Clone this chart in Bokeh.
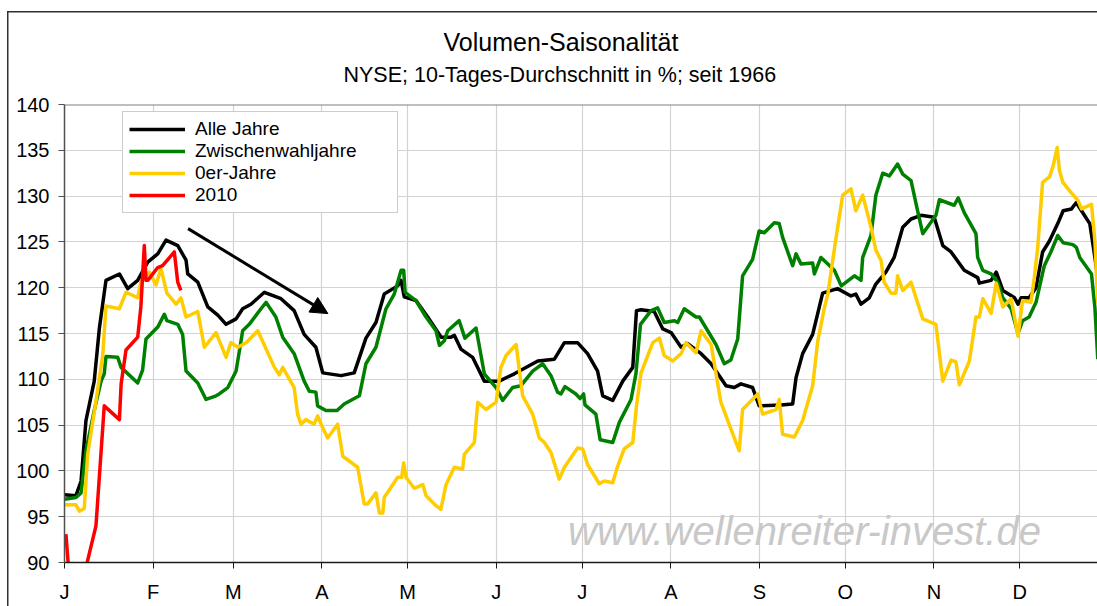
from bokeh.plotting import figure
from bokeh.models import (Range1d, FixedTicker, Legend, LegendItem, Label,
                          Arrow, NormalHead, Span, Title)
from bokeh.embed import file_html
from bokeh.resources import INLINE

FONT = "Liberation Sans"

# ---------------- data ----------------
MONTH_STARTS = [0, 31, 59, 90, 120, 151, 181, 212, 243, 273, 304, 334]
MONTH_LABELS = ["J", "F", "M", "A", "M", "J", "J", "A", "S", "O", "N", "D"]
Y_TICKS = [90, 95, 100, 105, 110, 115, 120, 125, 130, 135, 140]

TITLE = "Volumen-Saisonalität"
SUBTITLE = "NYSE; 10-Tages-Durchschnitt in %; seit 1966"
WATERMARK = "www.wellenreiter-invest.de"

SERIES_NAMES = ["Alle Jahre", "Zwischenwahljahre", "0er-Jahre", "2010"]

alle_day = [0, 4, 5.8, 7.5, 10.4, 12.2, 14.5, 19.2, 22.1, 25.6, 29.1, 32.6, 35.5,
            39.6, 42.5, 43.1, 46.6, 50.1, 53.6, 56.5, 60, 62.3, 65.2, 69.9, 75.7,
            80.3, 83.8, 87.9, 90.3, 96.7, 101.3, 105.4, 108.9, 111.8, 116.5, 117.7,
            118.8, 122.9, 127, 131.7, 135.1, 136.3, 138.6, 142.7, 146.8, 152, 157.3,
            165.5, 171.3, 174.8, 179.4, 182.9, 186.4, 188.2, 191.7, 195.2, 198.7,
            200, 201.6, 206.2, 209.2, 212.1, 215.6, 217.9, 222.6, 226.1, 231.3,
            234.2, 236.5, 240.6, 242.9, 250.5, 254.6, 255.8, 258.1, 261.6, 265.1,
            268.2, 270.3, 275, 276.7, 278.5, 281.4, 283.7, 287.2, 290.1, 293.1, 296,
            299.5, 304.1, 307.1, 310, 314.6, 319.3, 319.9, 324, 325.8, 328.1, 332.2,
            333.4, 334.5, 337.3, 339.7, 342, 344.4, 347.3, 349.2, 352.1, 353.8,
            355.6, 358.5, 360.3, 361.4]
alle_val = [97.4, 97.3, 98.9, 105.5, 109.8, 115.6, 120.8, 121.5, 119.9, 120.8, 122.8,
            123.7, 125.2, 124.6, 123.0, 121.5, 120.6, 117.9, 117.0, 116.0, 116.6,
            117.7, 118.2, 119.5, 118.8, 117.5, 114.9, 113.5, 110.7, 110.4, 110.7,
            114.5, 116.2, 119.3, 120.2, 120.8, 119.0, 118.6, 116.8, 114.6, 114.6,
            114.8, 113.3, 112.4, 109.8, 109.8, 110.6, 112.0, 112.2, 114.0, 114.0,
            112.8, 110.9, 108.2, 107.7, 109.8, 111.3, 117.5, 117.6, 117.4, 115.5,
            115.1, 113.5, 113.9, 112.8, 111.7, 109.3, 109.1, 109.5, 109.1, 107.1,
            107.2, 107.3, 110.2, 112.8, 114.9, 119.4, 119.7, 119.9, 119.1, 119.3,
            118.2, 118.9, 120.4, 121.7, 123.3, 126.6, 127.5, 127.9, 127.7, 124.6,
            123.9, 121.9, 121.1, 120.5, 120.8, 121.7, 119.7, 118.9, 118.2, 118.9,
            118.9, 120.0, 123.9, 125.1, 127.0, 128.4, 128.6, 129.3, 128.4, 127.0,
            123.3, 120.8]

zwj_day = [0, 4, 5.8, 7.5, 10.4, 12.8, 13.9, 14.5, 18.6, 19.8, 25.6, 27.3, 28.5,
           32.6, 34.9, 35.8, 39.6, 41.3, 42.5, 46.6, 49.5, 53, 54.1, 57.1, 60, 62.3,
           64.6, 68.7, 70.5, 73.9, 76.3, 80.3, 83.8, 85.6, 87.9, 88.5, 91.4, 95.3,
           97.8, 103.1, 105.4, 108.9, 112.4, 115.3, 117.7, 118.6, 119.1, 122.9,
           126.4, 129.9, 131.1, 132.8, 134, 138, 140, 143.9, 146.8, 150.9, 153.2,
           156.7, 159.6, 163.7, 167.2, 170.1, 172.4, 173.6, 175, 178.8, 180.3, 181.5,
           182, 185.8, 187.3, 191.7, 194, 198.1, 199.8, 201.4, 205.1, 207.4, 209.7,
           213.3, 214.4, 216.7, 220.8, 222, 224.9, 227.8, 230.7, 233, 235.4, 237.1,
           240.6, 242.9, 244.7, 248.2, 249.9, 251.1, 254.6, 255.8, 257.5, 261.6,
           262.2, 264.5, 269.2, 271.6, 276.2, 278.5, 279.1, 282, 283.7, 286.1, 288.4,
           291.3, 293.1, 296, 298.3, 300.1, 304.7, 305.9, 311.1, 312.5, 314.6, 318.7,
           319.3, 321.1, 324, 326.3, 328.1, 331, 333.4, 335, 337.3, 339.7, 342.6,
           344.9, 347.3, 349.2, 352.6, 353.8, 355, 359.1, 360.3, 361.3]
zwj_val = [96.9, 97.1, 97.6, 102.2, 106.6, 109.8, 110.6, 112.5, 112.4, 111.3, 109.6,
           111.0, 114.4, 115.7, 117.1, 116.4, 116.0, 114.9, 110.9, 109.6, 107.8, 108.2,
           108.4, 109.1, 110.9, 115.3, 116.0, 117.7, 118.4, 116.8, 114.6, 112.8, 109.8,
           108.7, 108.6, 107.1, 106.6, 106.6, 107.3, 108.2, 111.7, 113.5, 117.7, 119.3,
           121.9, 121.9, 119.5, 118.6, 116.8, 115.3, 113.7, 114.2, 115.3, 116.4, 114.5,
           115.6, 110.6, 109.1, 107.7, 109.1, 109.3, 110.9, 111.7, 110.4, 108.6, 108.4,
           109.2, 108.4, 107.9, 108.4, 107.2, 106.2, 103.4, 103.1, 105.3, 107.8, 110.6,
           116.0, 117.5, 117.8, 116.2, 116.4, 116.2, 117.7, 116.8, 116.8, 115.3, 113.8,
           111.7, 112.1, 114.4, 121.3, 123.1, 126.2, 126.0, 127.1, 127.0, 125.5, 122.4,
           123.7, 122.6, 122.7, 121.5, 123.3, 121.9, 120.2, 121.3, 120.8, 123.3, 125.7,
           130.1, 132.5, 132.2, 133.5, 132.4, 131.7, 128.4, 125.9, 127.9, 129.6, 129.0,
           129.8, 128.2, 125.9, 123.3, 121.9, 121.5, 120.6, 118.9, 117.7, 115.0, 116.4,
           116.8, 118.4, 122.4, 123.9, 125.7, 124.9, 124.7, 124.4, 123.3, 121.5, 117.8,
           112.2]

null_day = [0, 4, 5.2, 6.9, 8.1, 11, 13.4, 14.5, 19.2, 21.5, 25.6, 26.7, 29.7, 32,
            33.7, 35.8, 39, 40.7, 42.5, 46.6, 48.9, 53, 56.5, 58.2, 60.6, 63.5, 67.6,
            70.5, 73.4, 75.1, 76.3, 80.3, 81.5, 82.7, 84.4, 87.3, 88.5, 90.3, 92, 95.5,
            97.3, 102.5, 104.8, 106, 108.9, 110.1, 111.3, 111.8, 116.5, 117.9, 118.6,
            119.4, 122.3, 125.3, 126.4, 129.9, 131.6, 133.4, 136.3, 139.2, 139.8,
            143.3, 144.5, 147.4, 150.9, 152.6, 154.4, 157.9, 160.2, 163.7, 166, 167.8,
            170.1, 173, 174.8, 179.4, 181.2, 182.9, 187, 188.7, 191.7, 193.4, 195.7,
            198.7, 200, 201.6, 205.7, 208, 209.7, 212.7, 215.6, 217.3, 220.8, 222.6,
            226.1, 229.5, 233, 235.9, 237.1, 242.4, 244.1, 248.8, 249.9, 251.1, 255.2,
            258.1, 261.6, 263.4, 265.7, 266.9, 269.8, 272.1, 275, 276.7, 279.1, 282,
            283.7, 285.5, 286.6, 289, 290.7, 291.3, 293.1, 296, 300.1, 304.7, 307.1,
            310, 311.7, 312.9, 316.4, 318.7, 319.9, 321.1, 324, 325.8, 328.1, 331,
            333.4, 335, 337.9, 339.1, 340.3, 342, 344.4, 345.6, 347.1, 347.9, 349.1,
            351.4, 354.4, 355.6, 359.1, 360.3, 361.3]
null_val = [96.3, 96.3, 95.6, 95.9, 101.8, 107.6, 112.7, 118.0, 117.7, 119.5, 118.9,
            120.6, 121.7, 120.3, 122.1, 119.4, 118.2, 118.9, 116.8, 117.4, 113.5, 115.1,
            112.4, 114.0, 113.5, 114.0, 115.3, 113.3, 111.3, 110.5, 111.3, 109.1, 106.2,
            105.1, 105.6, 105.1, 106.0, 104.7, 103.6, 105.1, 101.6, 100.4, 96.4, 96.4,
            97.6, 95.4, 95.4, 97.1, 99.3, 99.3, 100.9, 99.3, 98.1, 98.5, 97.3, 96.2,
            95.8, 98.5, 100.4, 100.2, 101.8, 103.1, 107.5, 106.7, 107.5, 111.3, 112.6,
            113.8, 108.2, 106.2, 103.6, 103.1, 102.0, 99.1, 100.4, 102.5, 102.4, 100.7,
            98.6, 98.9, 98.7, 100.5, 102.4, 103.1, 107.1, 110.7, 114.0, 114.5, 112.6,
            112.0, 112.8, 114.0, 112.9, 115.3, 113.8, 107.5, 104.6, 102.2, 106.7, 108.4,
            106.2, 106.7, 107.8, 104.0, 103.7, 105.5, 109.3, 114.2, 117.8, 119.3, 125.5,
            130.1, 130.8, 128.4, 130.1, 126.6, 124.1, 123.0, 120.6, 119.4, 119.4, 121.3,
            119.7, 120.6, 116.6, 116.0, 109.8, 112.1, 111.9, 109.4, 112.0, 116.8, 116.8,
            118.8, 117.2, 120.5, 117.9, 118.8, 114.7, 118.6, 118.4, 121.1, 124.4, 131.5,
            132.1, 133.2, 135.3, 132.8, 131.5, 130.6, 129.5, 128.6, 129.1, 125.1, 118.2]

y2010_day = [0.5, 2.0, 6.0, 11, 13.9, 19.2, 19.8, 21.5, 25.6, 26.7, 27.9, 28.5,
             29.1, 32.6, 34.3, 38.4, 39.6, 40.7]
y2010_val = [93.1, 87.0, 87.5, 94.0, 107.1, 105.6, 109.5, 113.2, 114.6, 117.9, 124.6,
             120.8, 120.8, 122.2, 122.4, 123.9, 120.6, 119.7]

# arrow annotation (day, value)
ARROW_START = (43.2, 126.45)
ARROW_END = (92.1, 117.17)

COLORS = ["#000000", "#008000", "#FFCC00", "#FF0000"]

# ---------------- figure ----------------
p = figure(width=1097, height=606, output_backend="svg", toolbar_location=None,
           x_range=Range1d(0, 361.2), y_range=Range1d(90, 140),
           min_border_left=64, min_border_right=0, min_border_top=104,
           min_border_bottom=44, background_fill_color="white",
           border_fill_color=None, outline_line_color=None)

# thin chart-area frame (left and top edge) drawn behind the transparent border
p.styles = {
    "background-color": "white",
    "background-image": "linear-gradient(#303030, #303030), linear-gradient(#303030, #303030)",
    "background-size": "1.5px calc(100% - 11px), calc(100% - 7px) 1.5px",
    "background-position": "7px 11px, 7px 11px",
    "background-repeat": "no-repeat",
}

# grid
p.xgrid.ticker = FixedTicker(ticks=MONTH_STARTS)
p.ygrid.ticker = FixedTicker(ticks=Y_TICKS)
p.grid.grid_line_color = "#d3d3d3"
p.grid.grid_line_width = 1.2

# axes
p.xaxis.ticker = FixedTicker(ticks=MONTH_STARTS)
p.xaxis.major_label_overrides = {m: l for m, l in zip(MONTH_STARTS, MONTH_LABELS)}
p.yaxis.ticker = FixedTicker(ticks=Y_TICKS)
for ax in (p.xaxis[0], p.yaxis[0]):
    ax.minor_tick_line_color = None
    ax.major_tick_in = 0
    ax.major_tick_out = 6
    ax.major_label_text_font = FONT
    ax.major_label_text_font_size = "20px"
    ax.major_label_text_color = "#000000"
p.xaxis.axis_line_color = "#1a1a1a"
p.xaxis.axis_line_width = 1.5
p.xaxis.major_tick_line_color = "#1a1a1a"
p.xaxis.major_label_standoff = 12
p.yaxis.axis_line_color = "#505050"
p.yaxis.axis_line_width = 1.5
p.yaxis.major_tick_line_color = "#505050"
p.yaxis.major_label_standoff = 9

p.add_layout(Span(location=140, dimension="width", line_color="#808080",
                  line_width=2))

# watermark
p.add_layout(Label(x=740, y=32, x_units="screen", y_units="screen",
                   text=WATERMARK, text_font=FONT, text_font_size="40px",
                   text_font_style="italic", text_color="#c8c8c8",
                   text_align="center", text_baseline="alphabetic"))

# series
renderers = []
for xs, ys, c in zip([alle_day, zwj_day, null_day, y2010_day],
                     [alle_val, zwj_val, null_val, y2010_val], COLORS):
    r = p.line(xs, ys, line_color=c, line_width=3.5, line_join="round")
    renderers.append(r)

# arrow
p.add_layout(Arrow(x_start=ARROW_START[0], y_start=ARROW_START[1],
                   x_end=ARROW_END[0], y_end=ARROW_END[1],
                   line_color="black", line_width=3,
                   end=NormalHead(size=17, fill_color="black",
                                  line_color="black")))

# legend
legend = Legend(items=[LegendItem(label=n, renderers=[r])
                       for n, r in zip(SERIES_NAMES, renderers)],
                location=(58, 349), orientation="vertical",
                label_text_font=FONT, label_text_font_size="19px",
                label_text_color="black",
                glyph_width=56, glyph_height=22, label_height=22,
                label_width=196,
                spacing=0, padding=6, margin=0, label_standoff=10,
                border_line_color="#9a9a9a", border_line_width=1,
                background_fill_color="white", background_fill_alpha=1)
p.add_layout(legend)

# titles (subtitle first: it sits closest to the plot)
p.add_layout(Title(text=SUBTITLE, text_font=FONT, text_font_size="21.5px",
                   text_font_style="normal", text_color="black",
                   align="left", offset=279, standoff=35), "above")
p.add_layout(Title(text=TITLE, text_font=FONT, text_font_size="25px",
                   text_font_style="normal", text_color="black",
                   align="left", offset=379, standoff=-24), "above")

open("out.html", "w").write(file_html(p, INLINE))
